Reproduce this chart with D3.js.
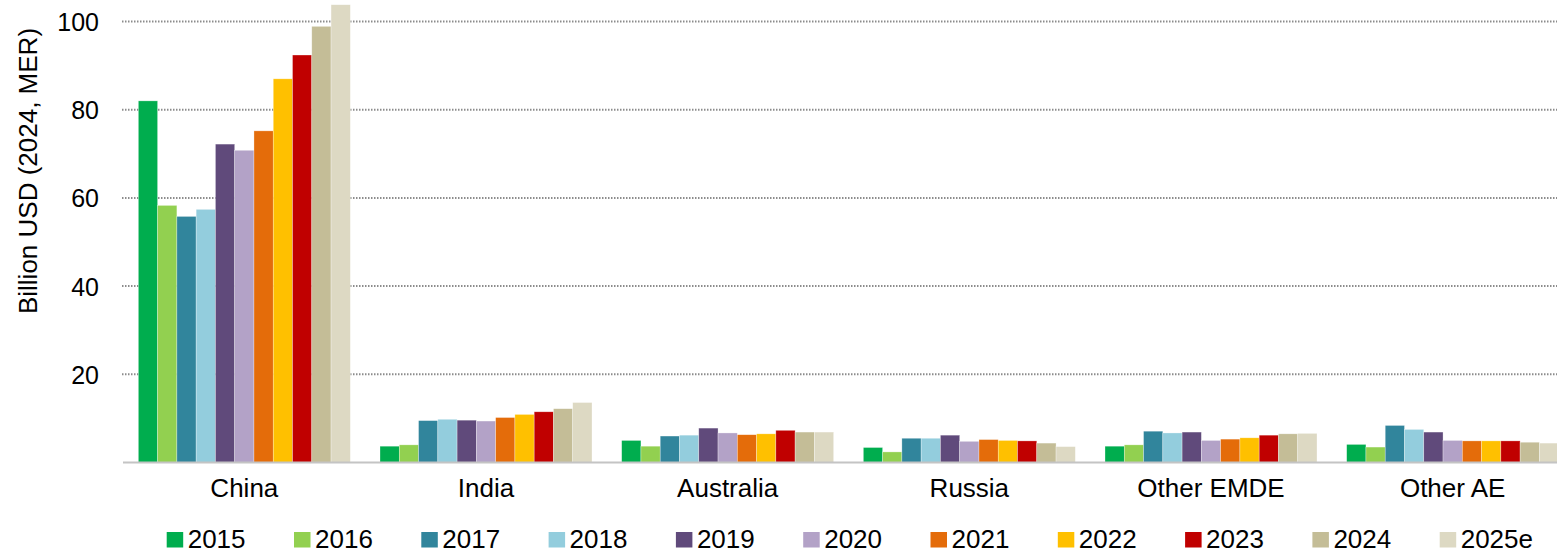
<!DOCTYPE html>
<html>
<head>
<meta charset="utf-8">
<script src="https://cdn.jsdelivr.net/npm/d3@7"></script>
<style>
  body { margin: 0; background: #fff; }
  text { font-family: Arial, "Liberation Sans", sans-serif; fill: #000; }
</style>
</head>
<body>
<div id="chart"></div>
<script>
// Set global variables (SVG dimensions)
var svgWidth = 1557;
var svgHeight = 554;

// Data
var regions = ["China", "India", "Australia", "Russia", "Other EMDE", "Other AE"];
var years = ["2015", "2016", "2017", "2018", "2019", "2020", "2021", "2022", "2023", "2024", "2025e"];
var yearColors = ["#00ad4e", "#92d050", "#31859c", "#93cddd", "#604a7b", "#b3a2c7",
                  "#e46c0a", "#ffc000", "#c00000", "#c4bd97", "#ddd9c3"];
var yTicks = [20, 40, 60, 80, 100];

// values per region, one entry per year
var china     = [82.0, 58.3, 55.8, 57.4, 72.2, 70.8, 75.2, 87.0, 92.4, 98.9, 103.8];
var india     = [3.7, 4.0, 9.5, 9.8, 9.6, 9.4, 10.2, 10.9, 11.5, 12.2, 13.6];
var australia = [5.0, 3.7, 6.0, 6.2, 7.8, 6.7, 6.3, 6.5, 7.3, 6.9, 6.9];
var russia    = [3.4, 2.4, 5.5, 5.5, 6.2, 4.8, 5.2, 5.0, 4.9, 4.4, 3.6];
var otherEMDE = [3.7, 4.0, 7.1, 6.7, 6.9, 5.0, 5.3, 5.6, 6.2, 6.5, 6.6];
var otherAE   = [4.1, 3.5, 8.4, 7.5, 6.9, 5.0, 4.9, 4.9, 4.9, 4.6, 4.4];
var seriesByRegion = [china, india, australia, russia, otherEMDE, otherAE];

// build rows for d3
var tableData = regions.map(function(r, i) {
  return { region: r, values: years.map(function(y, j) { return { year: y, value: seriesByRegion[i][j] }; }) };
});

var svg = d3.select("#chart")
  .append("svg")
  .attr("width", svgWidth)
  .attr("height", svgHeight);

// scales
var xScale = d3.scaleBand()
  .domain(regions)
  .range([123.5, 1573.5])
  .paddingInner(0.1228)
  .paddingOuter(0.0614);

var xInner = d3.scaleBand()
  .domain(years)
  .range([0, xScale.bandwidth()])
  .padding(0);

var yScale = d3.scaleLinear()
  .domain([0, 100])
  .range([462.5, 21.5]);

var color = d3.scaleOrdinal().domain(years).range(yearColors);

// dotted gridlines
svg.append("g").selectAll("line")
  .data(yTicks)
  .enter()
  .append("line")
  .attr("x1", 122)
  .attr("x2", svgWidth)
  .attr("y1", d => yScale(d))
  .attr("y2", d => yScale(d))
  .attr("stroke", "#8c8c8c")
  .attr("stroke-width", 2)
  .attr("stroke-dasharray", "1.5,1.5");

// y axis (labels only)
var leftAxis = d3.axisLeft(yScale).tickValues(yTicks).tickSize(0).tickPadding(0);
var yAxisGrp = svg.append("g")
  .attr("transform", "translate(99,0)")
  .call(leftAxis);
yAxisGrp.select(".domain").remove();
yAxisGrp.selectAll("text")
  .attr("font-size", 25)
  .attr("font-family", "Arial, 'Liberation Sans', sans-serif")
  .attr("fill", "#000")
  .attr("dy", "0.36em");

// bars
var groups = svg.append("g").selectAll("g")
  .data(tableData)
  .enter()
  .append("g")
  .attr("transform", d => `translate(${xScale(d.region)},0)`);

groups.selectAll("rect")
  .data(d => d.values)
  .enter()
  .append("rect")
  .attr("x", d => xInner(d.year))
  .attr("y", d => yScale(d.value))
  .attr("width", xInner.bandwidth())
  .attr("height", d => yScale(0) - yScale(d.value))
  .attr("fill", d => color(d.year))
  .attr("stroke", "#ffffff")
  .attr("stroke-opacity", 0.5)
  .attr("stroke-width", 0.6);

// x axis baseline + category labels
var bottomAxis = d3.axisBottom(xScale).tickSize(0).tickPadding(0);
var xAxisGrp = svg.append("g")
  .attr("transform", `translate(0,${yScale(0)})`)
  .call(bottomAxis);
xAxisGrp.select(".domain").remove();
xAxisGrp.append("line")
  .attr("x1", 123)
  .attr("x2", svgWidth)
  .attr("stroke", "#c4c4c4")
  .attr("stroke-width", 2);
xAxisGrp.selectAll(".tick text")
  .attr("font-size", 26)
  .attr("font-family", "Arial, 'Liberation Sans', sans-serif")
  .attr("fill", "#000")
  .attr("dy", 0)
  .attr("y", 34);

// y axis title
svg.append("text")
  .attr("transform", "rotate(-90)")
  .attr("x", -171)
  .attr("y", 37)
  .attr("text-anchor", "middle")
  .attr("font-size", 26)
  .text("Billion USD (2024, MER)");

// legend
var legend = svg.append("g").selectAll("g")
  .data(years)
  .enter()
  .append("g")
  .attr("transform", (d, i) => `translate(${166.7 + i * 127.3},0)`);

legend.append("rect")
  .attr("x", 0)
  .attr("y", 532)
  .attr("width", 16.5)
  .attr("height", 15.5)
  .attr("fill", d => color(d));

legend.append("text")
  .attr("x", 21)
  .attr("y", 548)
  .attr("font-size", 26)
  .text(d => d);
</script>
</body>
</html>
